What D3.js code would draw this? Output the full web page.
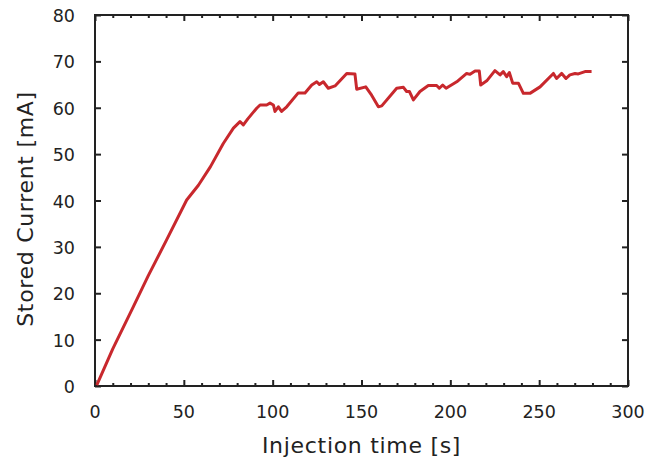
<!DOCTYPE html>
<html>
<head>
<meta charset="utf-8">
<script src="https://cdn.jsdelivr.net/npm/d3@7"></script>
<style>
  body { margin: 0; background: #fff; }
  svg text { font-family: "DejaVu Sans", sans-serif; fill: #222; }
</style>
</head>
<body>
<div class="graph-container"></div>
<script>
// injection time [s] and stored current [mA]
const times = [1, 10, 21.6, 30, 40.3, 51.6, 58.2, 65, 72.2, 77.9, 81.6, 83.5, 86, 91, 92.9, 96.6, 98.5, 100.4,
  101.3, 103.2, 105, 107.9, 114.4, 118.2, 122, 124.8, 126.3, 128.5, 131.3, 135.1, 141.7, 146.3, 147.3,
  152.4, 155.7, 159.5, 161.4, 169.8, 173.6, 175.4, 177, 179.2, 182.9, 187.6, 192.3, 193.8, 195.7, 197.6,
  203.6, 209.2, 211.1, 213.9, 216.3, 217.1, 220.5, 225.1, 228, 229.8, 231.7, 233.2, 235.1, 238.3, 241.1,
  244.8, 250.5, 258, 259.8, 262.7, 265.1, 267.3, 270.2, 272, 275.8, 279.5];
const current = [0.2, 8, 17.1, 23.8, 31.5, 40.1, 43.3, 47.3, 52.3, 55.6, 57.0, 56.3, 57.6, 59.9, 60.6, 60.6, 61.0, 60.6,
  59.2, 60.2, 59.2, 60.2, 63.2, 63.2, 64.9, 65.6, 65.0, 65.6, 64.2, 64.7, 67.4, 67.3, 64.0,
  64.5, 62.7, 60.2, 60.4, 64.2, 64.4, 63.5, 63.5, 61.7, 63.5, 64.8, 64.8, 64.2, 64.9, 64.2,
  65.6, 67.4, 67.2, 67.9, 67.9, 64.9, 65.8, 68.0, 67.1, 67.8, 66.7, 67.6, 65.3, 65.3, 63.1,
  63.1, 64.5, 67.4, 66.3, 67.4, 66.3, 67.1, 67.4, 67.3, 67.8, 67.8];

const xTicks = [0, 50, 100, 150, 200, 250, 300];
const yTicks = [0, 10, 20, 30, 40, 50, 60, 70, 80];

const width = 646, height = 460;
const margin = { top: 15, right: 18, bottom: 74, left: 95 };

const svg = d3.select('div.graph-container')
  .append('svg')
  .attr('width', width)
  .attr('height', height);

const x = d3.scaleLinear().domain([0, 300]).range([margin.left, width - margin.right]);
const y = d3.scaleLinear().domain([0, 80]).range([height - margin.bottom, margin.top]);

const minorX = d3.range(0, 301, 10).filter(d => d % 50 !== 0);
const axisColor = '#222';

// inward ticks on all four sides
const bottomMajor = d3.axisTop(x).tickValues(xTicks).tickSize(6).tickFormat('');
const bottomMinor = d3.axisTop(x).tickValues(minorX).tickSize(3).tickFormat('');
const topMajor = d3.axisBottom(x).tickValues(xTicks).tickSize(6).tickFormat('');
const topMinor = d3.axisBottom(x).tickValues(minorX).tickSize(3).tickFormat('');
const leftAx = d3.axisRight(y).tickValues(yTicks).tickSize(6).tickFormat('');
const rightAx = d3.axisLeft(y).tickValues(yTicks).tickSize(6).tickFormat('');

const addAxis = (ax, tx, ty) =>
  svg.append('g')
    .attr('transform', `translate(${tx}, ${ty})`)
    .call(ax)
    .call(g => g.select('.domain').remove())
    .call(g => g.selectAll('line').attr('stroke', axisColor).attr('stroke-width', 2));

addAxis(bottomMajor, 0, y(0));
addAxis(bottomMinor, 0, y(0));
addAxis(topMajor, 0, y(80));
addAxis(topMinor, 0, y(80));
addAxis(leftAx, x(0), 0);
addAxis(rightAx, x(300), 0);

svg.append('rect')
  .attr('x', x(0))
  .attr('y', y(80))
  .attr('width', x(300) - x(0))
  .attr('height', y(0) - y(80))
  .attr('fill', 'none')
  .attr('stroke', axisColor)
  .attr('stroke-width', 2);

// tick labels
svg.append('g')
  .selectAll('text')
  .data(xTicks)
  .enter()
  .append('text')
  .attr('x', d => x(d))
  .attr('y', y(0) + 32)
  .attr('text-anchor', 'middle')
  .attr('font-size', '17.5px')
  .text(d => d);

svg.append('g')
  .selectAll('text')
  .data(yTicks)
  .enter()
  .append('text')
  .attr('x', x(0) - 20)
  .attr('y', d => y(d) + 7)
  .attr('text-anchor', 'end')
  .attr('font-size', '17.5px')
  .text(d => d);

// axis titles
svg.append('text')
  .attr('x', (x(0) + x(300)) / 2)
  .attr('y', 453)
  .attr('text-anchor', 'middle')
  .attr('font-size', '22px')
  .attr('letter-spacing', '0.7px')
  .text('Injection time [s]');

svg.append('text')
  .attr('transform', 'translate(33, 209) rotate(-90)')
  .attr('text-anchor', 'middle')
  .attr('font-size', '22px')
  .attr('letter-spacing', '0.7px')
  .text('Stored Current [mA]');

// data line
const line = d3.line()
  .x((d, i) => x(times[i]))
  .y(d => y(d));

svg.append('path')
  .datum(current)
  .attr('d', line)
  .attr('fill', 'none')
  .attr('stroke', '#c8282d')
  .attr('stroke-width', 3)
  .attr('stroke-linejoin', 'round');
</script>
</body>
</html>
